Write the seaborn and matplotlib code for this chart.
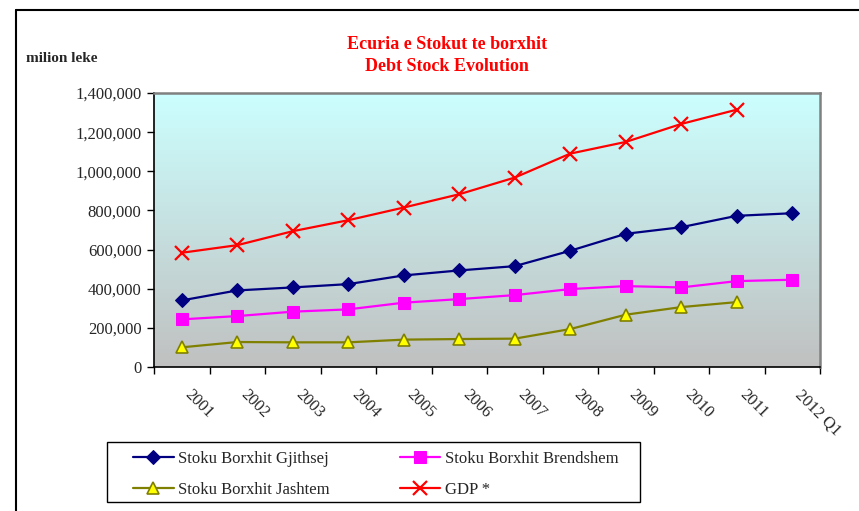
import pandas as pd
import seaborn as sns
import matplotlib.pyplot as plt
import matplotlib.transforms as mtransforms
import numpy as np
from matplotlib.colors import LinearSegmentedColormap
from matplotlib.lines import Line2D
from matplotlib.patches import Rectangle
from matplotlib.ticker import FuncFormatter

# Data (milion leke)
years = ["2001", "2002", "2003", "2004", "2005", "2006", "2007", "2008",
         "2009", "2010", "2011", "2012 Q1"]
total = [340300, 391300, 406600, 423500, 467900, 493400, 515300, 593900,
         680600, 714300, 772500, 785700]
domestic = [243400, 260200, 282700, 294400, 328600, 346900, 367300, 398000,
            413300, 406600, 438800, 445900]
foreign = [100500, 127600, 126000, 126000, 139800, 142900, 144900, 193900,
           267300, 306100, 331600, np.nan]
gdp = [583700, 622500, 693900, 750000, 814800, 882700, 967900, 1090300,
       1150000, 1241800, 1314800, np.nan]

labels = ["Stoku Borxhit Gjithsej", "Stoku Borxhit Brendshem",
          "Stoku Borxhit Jashtem", "GDP *"]

sns.set_style("white")
plt.rcParams["font.family"] = ["Liberation Serif", "DejaVu Serif"]

fig = plt.figure(figsize=(8.59, 5.11), dpi=100)
ax = fig.add_axes([0.1793, 0.2818, 0.7753, 0.5362])

# gradient background like Excel plot area
cmap = LinearSegmentedColormap.from_list("bg", ["#C0C0C0", "#CCFFFF"])
grad = np.linspace(0, 1, 256).reshape(-1, 1)
ax.imshow(grad, cmap=cmap, aspect="auto", origin="lower",
          extent=[0, 1, 0, 1], transform=ax.transAxes, zorder=0)

pos = np.arange(len(years))
sns.lineplot(x=pos, y=total, ax=ax, color="#000080", lw=1.6, marker="D",
             markersize=7, markerfacecolor="#000080", markeredgecolor="#000080",
             label=labels[0], zorder=3)
sns.lineplot(x=pos, y=domestic, ax=ax, color="#FF00FF", lw=1.6, marker="s",
             markersize=9, markerfacecolor="#FF00FF", markeredgecolor="#FF00FF",
             label=labels[1], zorder=3)
sns.lineplot(x=pos, y=foreign, ax=ax, color="#808000", lw=1.6, marker="^",
             markersize=9, markerfacecolor="#FFFF00", markeredgecolor="#808000",
             markeredgewidth=1.2, label=labels[2], zorder=3)
sns.lineplot(x=pos, y=gdp, ax=ax, color="#FF0000", lw=1.6, marker="x",
             markersize=10, markeredgewidth=1.6, markeredgecolor="#FF0000",
             label=labels[3], zorder=3)

ax.set_xlim(-0.5, len(years) - 0.5)
ax.set_ylim(0, 1400000)
ax.set_yticks(np.arange(0, 1400001, 200000))
ax.yaxis.set_major_formatter(FuncFormatter(lambda v, p: f"{int(v):,}"))
ax.set_xticks(pos)
ax.set_xticklabels(years, rotation=-45, ha="left", va="top",
                   rotation_mode="anchor")
ax.set_xticks(np.arange(-0.5, len(years), 1), minor=True)
ax.tick_params(axis="x", which="major", length=0, pad=14, labelsize=12)
ax.tick_params(axis="x", which="minor", length=5, width=1, color="black",
               direction="out", bottom=True)
ax.tick_params(axis="y", length=5, width=1, color="black", direction="out",
               left=True, labelsize=12, pad=4)
ax.set_xlabel("")
ax.set_ylabel("")

# shift the slanted year labels a little to the right, as in Excel
shift = mtransforms.ScaledTranslation(0.11, 0, fig.dpi_scale_trans)
for lab in ax.get_xticklabels():
    lab.set_transform(lab.get_transform() + shift)

for s in ["left", "bottom"]:
    ax.spines[s].set_color("black")
    ax.spines[s].set_linewidth(1.2)
for s in ["top", "right"]:
    ax.spines[s].set_color("#808080")
    ax.spines[s].set_linewidth(1.8)

# legend: row-wise order like the reference
ax.get_legend().remove()
handles, lbls = ax.get_legend_handles_labels()
order = [0, 2, 1, 3]
fig.legend([handles[i] for i in order], [lbls[i] for i in order], ncol=2,
           loc="upper left", bbox_to_anchor=(133 / 859, 0.118),
           fontsize=12, frameon=False, handlelength=2.45, handletextpad=0.25,
           borderpad=0, borderaxespad=0, labelspacing=0.9, columnspacing=4.2)
fig.add_artist(Rectangle((107 / 859, 9 / 511), 533 / 859, 60 / 511,
                         transform=fig.transFigure, fill=False,
                         edgecolor="black", lw=1.0))

# titles
fig.text(0.52, 0.912, "Ecuria e Stokut te borxhit", color="#FF0000",
         fontsize=13, fontweight="bold", ha="center", va="center")
fig.text(0.52, 0.870, "Debt Stock Evolution", color="#FF0000",
         fontsize=13, fontweight="bold", ha="center", va="center")
fig.text(26 / 859, 0.885, "milion leke", fontsize=11, fontweight="bold",
         ha="left", va="center")

# outer chart frame
fig.add_artist(Line2D([0.0186, 1.0], [0.980, 0.980], color="black", lw=1.5,
                      transform=fig.transFigure))
fig.add_artist(Line2D([0.0186, 0.0186], [0.0, 0.980], color="black", lw=1.5,
                      transform=fig.transFigure))

fig.savefig("out.png", dpi=100)
